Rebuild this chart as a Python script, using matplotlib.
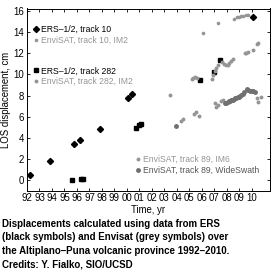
import matplotlib
matplotlib.use("Agg")
import matplotlib.pyplot as plt

plt.rcParams["font.family"] = ["Liberation Sans", "DejaVu Sans"]

# ERS-1/2, track 10 (black diamonds)
ers10_t = [1992.25, 1993.85, 1995.75, 1996.25, 1997.85, 2000.05, 2000.4, 2010.1]
ers10_d = [0.5, 1.8, 3.45, 3.75, 4.8, 7.8, 8.1, 15.4]

# EnviSAT, track 10, IM2
env10_t = [2006.05, 2007.3, 2008.6, 2008.8, 2009.0, 2009.15, 2009.3, 2009.5, 2009.65]
env10_d = [13.9, 14.9, 15.3, 15.4, 15.45, 15.5, 15.55, 15.6, 15.6]

# ERS-1/2, track 282 (black squares)
ers282_t = [1995.6, 1996.3, 1996.45, 2000.7, 2000.95, 2001.1, 2005.85, 2006.95, 2007.45]
ers282_d = [0.0, 0.07, 0.12, 4.9, 5.2, 5.35, 9.5, 10.2, 11.4]

# EnviSAT, track 282, IM2
env282_t = [2003.45, 2005.2, 2005.3, 2005.45, 2005.6, 2006.8, 2006.9, 2007.05, 2007.15,
            2007.25, 2007.6, 2007.75, 2007.9, 2008.05, 2008.2, 2008.35, 2008.5,
            2009.45, 2009.55, 2009.65, 2010.05, 2010.4, 2010.5]
env282_d = [8.05, 9.55, 9.7, 9.75, 9.65, 9.6, 9.9, 10.3, 10.6,
            10.9, 11.2, 11.0, 10.85, 10.9, 11.1, 11.3, 11.45,
            12.0, 12.05, 12.1, 12.3, 12.85, 13.0]

# EnviSAT, track 89, IM6
im6_t = [2004.3, 2004.5, 2005.4, 2005.5, 2005.75, 2007.05, 2007.15, 2007.3, 2007.55,
         2007.7, 2010.4, 2010.5, 2010.7]
im6_d = [5.6, 5.75, 6.25, 6.4, 6.05, 7.3, 6.95, 7.15, 7.45,
         7.6, 7.75, 7.4, 7.85]

# EnviSAT, track 89, WideSwath
ws_t = [2003.9, 2007.85, 2007.95, 2008.05, 2008.15, 2008.25, 2008.35, 2008.45, 2008.55,
        2008.65, 2008.75, 2008.85, 2008.95, 2009.05, 2009.15, 2009.25, 2009.35,
        2009.6, 2009.7, 2009.85, 2010.0, 2010.1, 2010.25]
ws_d = [5.1, 7.25, 7.3, 7.4, 7.45, 7.5, 7.55, 7.6, 7.7,
        7.75, 7.8, 7.85, 7.9, 8.0, 8.05, 8.15, 8.3,
        8.6, 8.5, 8.45, 8.45, 8.4, 8.35]

year_ticks = list(range(1992, 2011))
year_labels = ["%02d" % (y % 100) for y in year_ticks]
cm_ticks = [0, 2, 4, 6, 8, 10, 12, 14, 16]

caption = ("Displacements calculated using data from ERS\n"
           "(black symbols) and Envisat (grey symbols) over\n"
           "the Altiplano\u2013Puna volcanic province 1992\u20132010.\n"
           "Credits: Y. Fialko, SIO/UCSD")

GREY = "#959595"
DGREY = "#707070"

fig = plt.figure(figsize=(2.74, 2.76), dpi=100)
W, H = 274, 276
ax = fig.add_axes([27 / W, 1 - 190.5 / H, 243 / W, 182 / H])

h1, = ax.plot(ers10_t, ers10_d, "D", color="black", ms=3.1, ls="none",
              label="ERS\u20131/2, track 10")
h2, = ax.plot(env10_t, env10_d, "o", color=GREY, ms=1.6, ls="none",
              label="EnviSAT, track 10, IM2")
h3, = ax.plot(ers282_t, ers282_d, "s", color="black", ms=2.8, ls="none",
              label="ERS\u20131/2, track 282")
h4, = ax.plot(env282_t, env282_d, "o", color=GREY, ms=1.8, ls="none",
              label="EnviSAT, track 282, IM2")
h5, = ax.plot(im6_t, im6_d, "o", color=GREY, ms=1.8, ls="none",
              label="EnviSAT, track 89, IM6")
h6, = ax.plot(ws_t, ws_d, "o", color=DGREY, ms=2.5, ls="none",
              label="EnviSAT, track 89, WideSwath")

ax.set_xlim(1992, 2011.45)
ax.set_ylim(-1, 16.25)
ax.set_xticks(year_ticks)
ax.set_xticklabels(year_labels)
ax.set_yticks(cm_ticks)
ax.tick_params(direction="in", length=2.5, width=0.6, labelsize=6.9, pad=2,
               top=True, right=True)
for s in ax.spines.values():
    s.set_linewidth(0.7)
ax.set_xlabel("Time, yr", fontsize=6.9, labelpad=1)
ax.set_ylabel("LOS displacement, cm", fontsize=6.9, labelpad=2)

common = dict(frameon=False, fontsize=6.2, handlelength=0.6, handletextpad=0.3,
              labelspacing=0.2, borderpad=0, borderaxespad=0, loc="upper left")
leg1 = ax.legend(handles=[h1, h2], bbox_to_anchor=(33 / W, 1 - 25 / H),
                 bbox_transform=fig.transFigure, **common)
leg2 = ax.legend(handles=[h3, h4], bbox_to_anchor=(33 / W, 1 - 66.5 / H),
                 bbox_transform=fig.transFigure, **common)
leg3 = ax.legend(handles=[h5, h6], bbox_to_anchor=(135 / W, 1 - 155 / H),
                 bbox_transform=fig.transFigure, **common)
ax.add_artist(leg1)
ax.add_artist(leg2)
for leg, cols in [(leg1, ["black", GREY]), (leg2, ["black", GREY]), (leg3, [GREY, "#555555"])]:
    for txt, c in zip(leg.get_texts(), cols):
        txt.set_color(c)

fig.text(2 / W, 1 - 219 / H, caption, fontsize=7.05, fontweight="bold",
         ha="left", va="top", linespacing=1.42)

fig.savefig("out.png", dpi=100)
plt.close(fig)
